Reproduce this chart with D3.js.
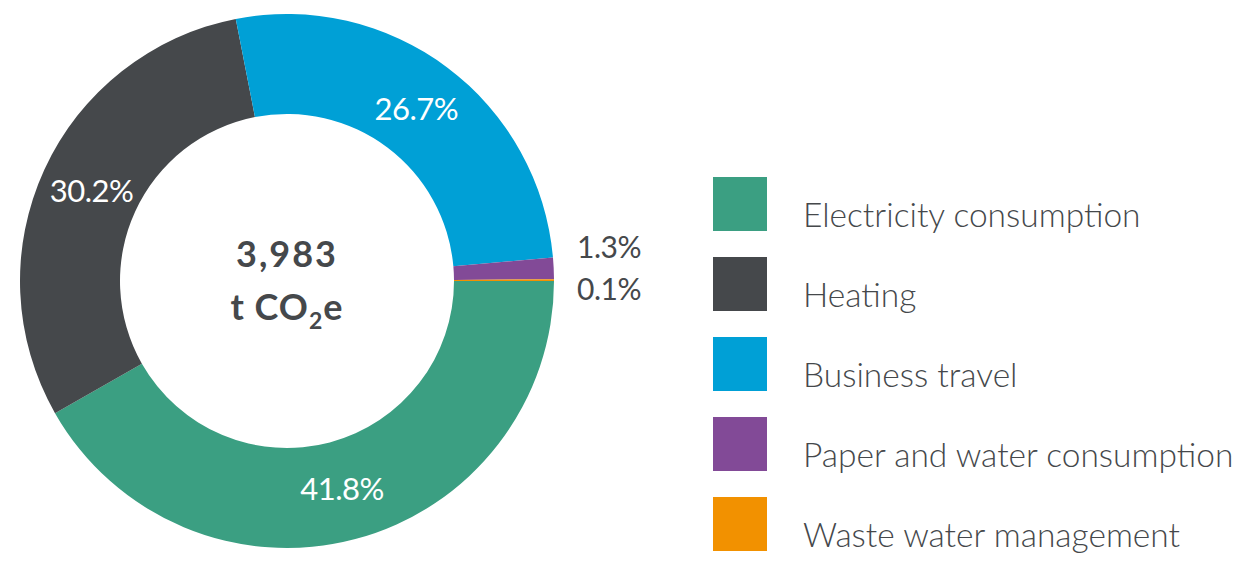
<!DOCTYPE html>
<html><head><meta charset="utf-8">
<script src="https://cdn.jsdelivr.net/npm/d3@7"></script>
<style>html,body{margin:0;padding:0;background:#fff;} svg{display:block;}</style>
</head><body>
<svg id="chart" width="1240" height="563"></svg>
<script>
const categories = ["Electricity consumption","Heating","Business travel","Paper and water consumption","Waste water management"];
const shares = [41.8, 30.2, 26.7, 1.3, 0.1];
const labels = ["41.8%","30.2%","26.7%","1.3%","0.1%"];
const colors = ["#3b9f82","#45484b","#00a0d6","#824a97","#f29100"];
const totalLabel = "3,983";

const svg = d3.select("#chart");
const cx = 287, cy = 281, outerR = 267, innerR = 167;
const g = svg.append("g").attr("transform", `translate(${cx},${cy})`);
const pie = d3.pie().sort(null).value(d => d.v).startAngle(Math.PI/2).endAngle(Math.PI/2 + 2*Math.PI);
const data = categories.map((c,i)=>({c, v: shares[i], l: labels[i], col: colors[i]}));
const arcs = pie(data);
const arc = d3.arc().innerRadius(innerR).outerRadius(outerR);
g.selectAll("path").data(arcs).join("path").attr("d", arc).attr("fill", d => d.data.col);

const labelArc = d3.arc().innerRadius(215).outerRadius(215);
const fontFam = "Lato, 'Open Sans', sans-serif";
arcs.forEach((a, i) => {
  if (a.data.v >= 5) {
    const [x, y] = labelArc.centroid(a);
    g.append("text").attr("x", x).attr("y", y).attr("dy", "0.35em")
      .attr("text-anchor", "middle").attr("fill", "#fff")
      .style("font-family", fontFam).style("font-size", "31px").style("font-weight", 400)
      .style("letter-spacing", "-0.5px")
      .text(a.data.l);
  }
});
const small = arcs.filter(a => a.data.v < 5);
small.forEach((a, k) => {
  g.append("text").attr("x", outerR + 23).attr("y", k === 0 ? -23 : 19)
    .attr("fill", "#45484b")
    .style("font-family", fontFam).style("font-size", "30px").style("font-weight", 400)
    .style("letter-spacing", "-0.5px")
    .text(a.data.l);
});

g.append("text").attr("x", 0).attr("y", -14).attr("text-anchor", "middle")
  .attr("fill", "#45484b").style("font-family", fontFam).style("font-size", "36px").style("font-weight", 700)
  .style("letter-spacing", "2px")
  .text(totalLabel);
const t2 = g.append("text").attr("x", 0).attr("y", 39).attr("text-anchor", "middle")
  .attr("fill", "#45484b").style("font-family", fontFam).style("font-size", "36px").style("font-weight", 700)
  .style("letter-spacing", "1px");
t2.append("tspan").text("t CO");
t2.append("tspan").attr("dy", 9).style("font-size", "23px").text("2");
t2.append("tspan").attr("dy", -9).text("e");

const leg = svg.append("g").attr("transform", "translate(713,177)");
const items = leg.selectAll("g").data(data).join("g").attr("transform", (d,i) => `translate(0,${i*80})`);
items.append("rect").attr("width", 54).attr("height", 54).attr("fill", d => d.col);
items.append("text").attr("x", 90).attr("y", 50)
  .attr("fill", "#45484b").style("font-family", fontFam).style("font-size", "33.5px").style("font-weight", 300)
  .text(d => d.c);
</script>
</body></html>
